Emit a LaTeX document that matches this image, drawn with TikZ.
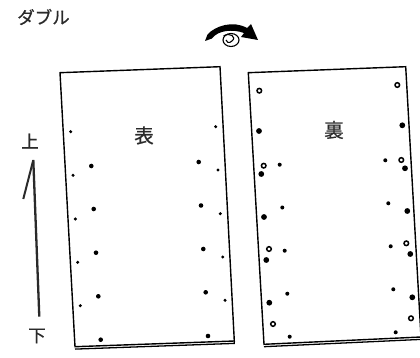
\documentclass[tikz,border=0pt]{standalone}
\usepackage{fontspec}
\newfontfamily\jpfont{Noto Sans CJK JP}[FakeBold=0.6]
\definecolor{txtgray}{HTML}{2A2A2A}
\definecolor{arrgray}{HTML}{2A2A2A}
\tikzset{
  sheet/.style={draw=black, line width=1.4pt, fill=white, line join=miter},
  label/.style={font=\jpfont\fontsize{17.5}{17.5}\selectfont, text=txtgray, inner sep=0pt},
  bigch/.style={font=\jpfont\fontsize{19.5}{19.5}\selectfont, text=txtgray, inner sep=0pt},
  dotsmall/.style={fill=black},
  ringdot/.style={draw=black, line width=1.5pt, fill=white},
}
\begin{document}
\begin{tikzpicture}[x=1pt,y=-1pt]
\useasboundingbox (0,0) rectangle (420,358);
% sheets
\coordinate (LTL) at (60,72.7);
\coordinate (LTR) at (220,66.7);
\coordinate (LBR) at (234.3,341);
\coordinate (LBL) at (75,346.7);
\coordinate (RTL) at (248.3,72.7);
\coordinate (RTR) at (405.7,66.7);
\coordinate (RBR) at (421,337);
\coordinate (RBL) at (264,344.3);
\draw[sheet] (LTL) -- (LTR) -- (LBR) -- (LBL) -- cycle;
\draw[sheet] (RTL) -- (RTR) -- (RBR) -- (RBL) -- cycle;
\draw[line width=1.3pt] ([yshift=-2.4pt]LBL) -- ([yshift=-2.4pt]LBR) -- (LBR);
\draw[line width=1.3pt] ([yshift=-2.4pt]RBL) -- ([yshift=-2.4pt]RBR);
% left dots
\foreach \p in {(70.7,131.7),(215.7,126.7),(73,175.3),(218,170),(75.3,219),(220.3,213.7),(77.7,262.3),(222.7,257),(80.3,305.7),(225,300.3)}
  \fill[dotsmall] \p circle (1.7pt);
\foreach \p in {(91.3,166),(198.7,162),(93.7,209),(201,205.5),(96,252.7),(203.3,249),(98.3,296.3),(205.7,292.3),(100.7,339.7),(208,336)}
  \fill[dotsmall] \p circle (2.3pt);
% right dots
\foreach \p in {(279.7,164.7),(385.3,160.3),(282.3,207.5),(388.3,203.3),(284.7,250.7),(390.7,246.3),(287.3,293.7),(393.3,289.3),(289.7,336.7),(395.7,332.3)}
  \fill[dotsmall] \p circle (2pt);
\foreach \p in {(259,131),(402.3,125.3),(261.3,174),(405,168.3),(264,217),(407.3,211),(266.3,260),(410.3,254),(269.3,302.7),(412.3,297.3)}
  \fill[dotsmall] \p circle (2.9pt);
\foreach \p in {(259.3,90.7),(397.3,85),(263.7,165.7),(401.3,160),(269,249),(406.3,243.3),(273,324),(411,318.3)}
  \draw[ringdot] \p circle (2.3pt);
% labels
\node[label] (title) at (43.5,17) {ダブル};
\node[bigch] (omote) at (144,135.5) {表};
\node[bigch] (ura) at (334,130) {裏};
\node[label] (ue) at (30,141) {上};
\node[label] (shita) at (37,336) {下};
% up arrow
\coordinate (atop) at (33.3,160);
\coordinate (abot) at (39.3,316.7);
\coordinate (abarb) at (23.3,199);
\draw[arrgray, line width=2.3pt, line cap=butt] (abot) -- (atop);
\draw[arrgray, line width=2pt] (atop) -- (abarb);
% flip icon
\fill[black] (205,41) -- (207.5,34.5) .. controls (215,26) and (233,20) .. (247,28)
  -- (251,24) -- (258,40) -- (241,37) -- (244,33)
  .. controls (233,29) and (218,30) .. (212,38.5) -- cycle;
\draw[black, line width=1.1pt] (231,40) ellipse (8pt and 6.5pt);
\draw[black, line width=1.1pt] (223.5,36) .. controls (230,32) and (237,37) .. (232,41)
  .. controls (229,44) and (226,42) .. (226,40);
\end{tikzpicture}
\end{document}
